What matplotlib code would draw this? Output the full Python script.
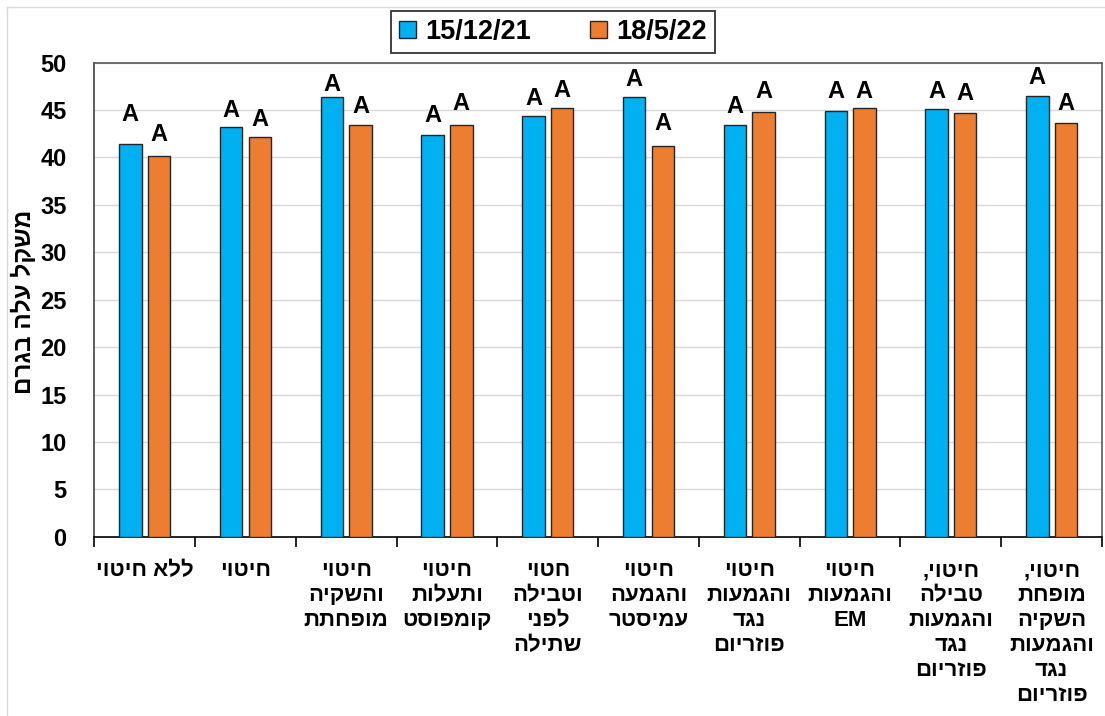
import matplotlib
matplotlib.use("Agg")
import matplotlib.pyplot as plt
from matplotlib.lines import Line2D
import numpy as np

# Treatments (logical Hebrew order, one entry per line of the label)
categories = [
    ["ללא חיטוי"],
    ["חיטוי"],
    ["חיטוי", "והשקיה", "מופחתת"],
    ["חיטוי", "ותעלות", "קומפוסט"],
    ["חטוי", "וטבילה", "לפני", "שתילה"],
    ["חיטוי", "והגמעה", "עמיסטר"],
    ["חיטוי", "והגמעות", "נגד", "פוזריום"],
    ["חיטוי", "והגמעות", "EM"],
    ["חיטוי,", "טבילה", "והגמעות", "נגד", "פוזריום"],
    ["חיטוי,", "מופחת", "השקיה", "והגמעות", "נגד", "פוזריום"],
]

series_names = ["15/12/21", "18/5/22"]
leaf_weight_dec21 = [41.4, 43.2, 46.4, 42.4, 44.4, 46.4, 43.4, 44.9, 45.1, 46.5]
leaf_weight_may22 = [40.2, 42.2, 43.4, 43.4, 45.2, 41.2, 44.8, 45.2, 44.7, 43.6]

# Significance letters and the height (in grams) where each one sits
letters_dec21 = ["A"] * 10
letters_may22 = ["A"] * 10
letter_y_dec21 = [43.8, 44.3, 47.0, 43.7, 45.5, 47.5, 44.7, 46.25, 46.25, 47.8]
letter_y_may22 = [41.7, 43.3, 44.7, 45.0, 46.4, 42.9, 46.25, 46.25, 46.1, 45.0]

y_ticks = [0, 5, 10, 15, 20, 25, 30, 35, 40, 45, 50]
y_label = "משקל עלה בגרם"

BLUE = "#00B0F0"
ORANGE = "#ED7D31"
FONT = ["Liberation Sans", "DejaVu Sans"]


def visual(line):
    """Hebrew lines are stored in reading order; flip them for LTR rendering."""
    if any("\u0590" <= ch <= "\u05FF" for ch in line):
        return line[::-1]
    return line


plt.rcParams["font.family"] = FONT
plt.rcParams["font.weight"] = "bold"

W, H = 1105, 716
fig = plt.figure(figsize=(W / 100, H / 100), dpi=100)
ax = fig.add_axes([94.3 / W, 1 - 536.7 / H, (1102 - 94.3) / W, (536.7 - 62.7) / H])

x = np.arange(len(categories))
width = 0.223
offset = 0.142

bars1 = ax.bar(x - offset, leaf_weight_dec21, width, color=BLUE,
               edgecolor="#262626", linewidth=1.0, label=series_names[0], zorder=3)
bars2 = ax.bar(x + offset, leaf_weight_may22, width, color=ORANGE,
               edgecolor="#262626", linewidth=1.0, label=series_names[1], zorder=3)

for xi, lab, ly in zip(x - offset, letters_dec21, letter_y_dec21):
    ax.text(xi, ly, lab, ha="center", va="baseline", fontsize=17,
            fontweight="bold", zorder=4)
for xi, lab, ly in zip(x + offset, letters_may22, letter_y_may22):
    ax.text(xi, ly, lab, ha="center", va="baseline", fontsize=17,
            fontweight="bold", zorder=4)

ax.set_xlim(-0.5, len(categories) - 0.5)
ax.set_ylim(0, 50)
ax.set_yticks(y_ticks)
ax.set_yticklabels([str(t) for t in y_ticks], fontsize=17, fontweight="bold")
ax.tick_params(axis="y", length=0, pad=20)
ax.yaxis.grid(True, color="#D9D9D9", linewidth=1.0, zorder=0)
ax.set_axisbelow(True)

# Category labels at bar-group centres, tick marks on group boundaries
ax.set_xticks(x)
ax.set_xticklabels(["\n".join(visual(l) for l in c) for c in categories],
                   fontsize=16, fontweight="bold", linespacing=1.25, va="top")
ax.tick_params(axis="x", which="major", length=0, pad=17)
ax.set_xticks(np.arange(-0.5, len(categories)), minor=True)
ax.tick_params(axis="x", which="minor", length=7, width=1.2, color="black")

for side in ("top", "right"):
    ax.spines[side].set_color("#595959")
    ax.spines[side].set_linewidth(1.2)
ax.spines["left"].set_color("#404040")
ax.spines["left"].set_linewidth(1.2)
ax.spines["bottom"].set_color("black")
ax.spines["bottom"].set_linewidth(1.2)

fig.text(23 / W, 1 - 302 / H, visual(y_label), rotation=90, ha="center",
         va="center", fontsize=17.5, fontweight="bold")

leg = fig.legend(handles=[bars1, bars2], labels=series_names, loc="center",
                 bbox_to_anchor=(553 / W, 1 - 31.7 / H), ncol=2, fontsize=19.5,
                 frameon=True, fancybox=False, edgecolor="black",
                 handlelength=0.6, handleheight=0.6, handletextpad=0.35,
                 columnspacing=2.2, borderpad=0.3, borderaxespad=0)
leg.get_frame().set_linewidth(1.3)
for t in leg.get_texts():
    t.set_fontweight("bold")

# Light outer frame of the chart area
fig.add_artist(Line2D([7 / W, 7 / W], [0, 1 - 7 / H], color="#D9D9D9",
                      linewidth=1.0, transform=fig.transFigure))
fig.add_artist(Line2D([7 / W, 1], [1 - 7 / H, 1 - 7 / H], color="#D9D9D9",
                      linewidth=1.0, transform=fig.transFigure))

fig.savefig("out.png", dpi=100, facecolor="white")
